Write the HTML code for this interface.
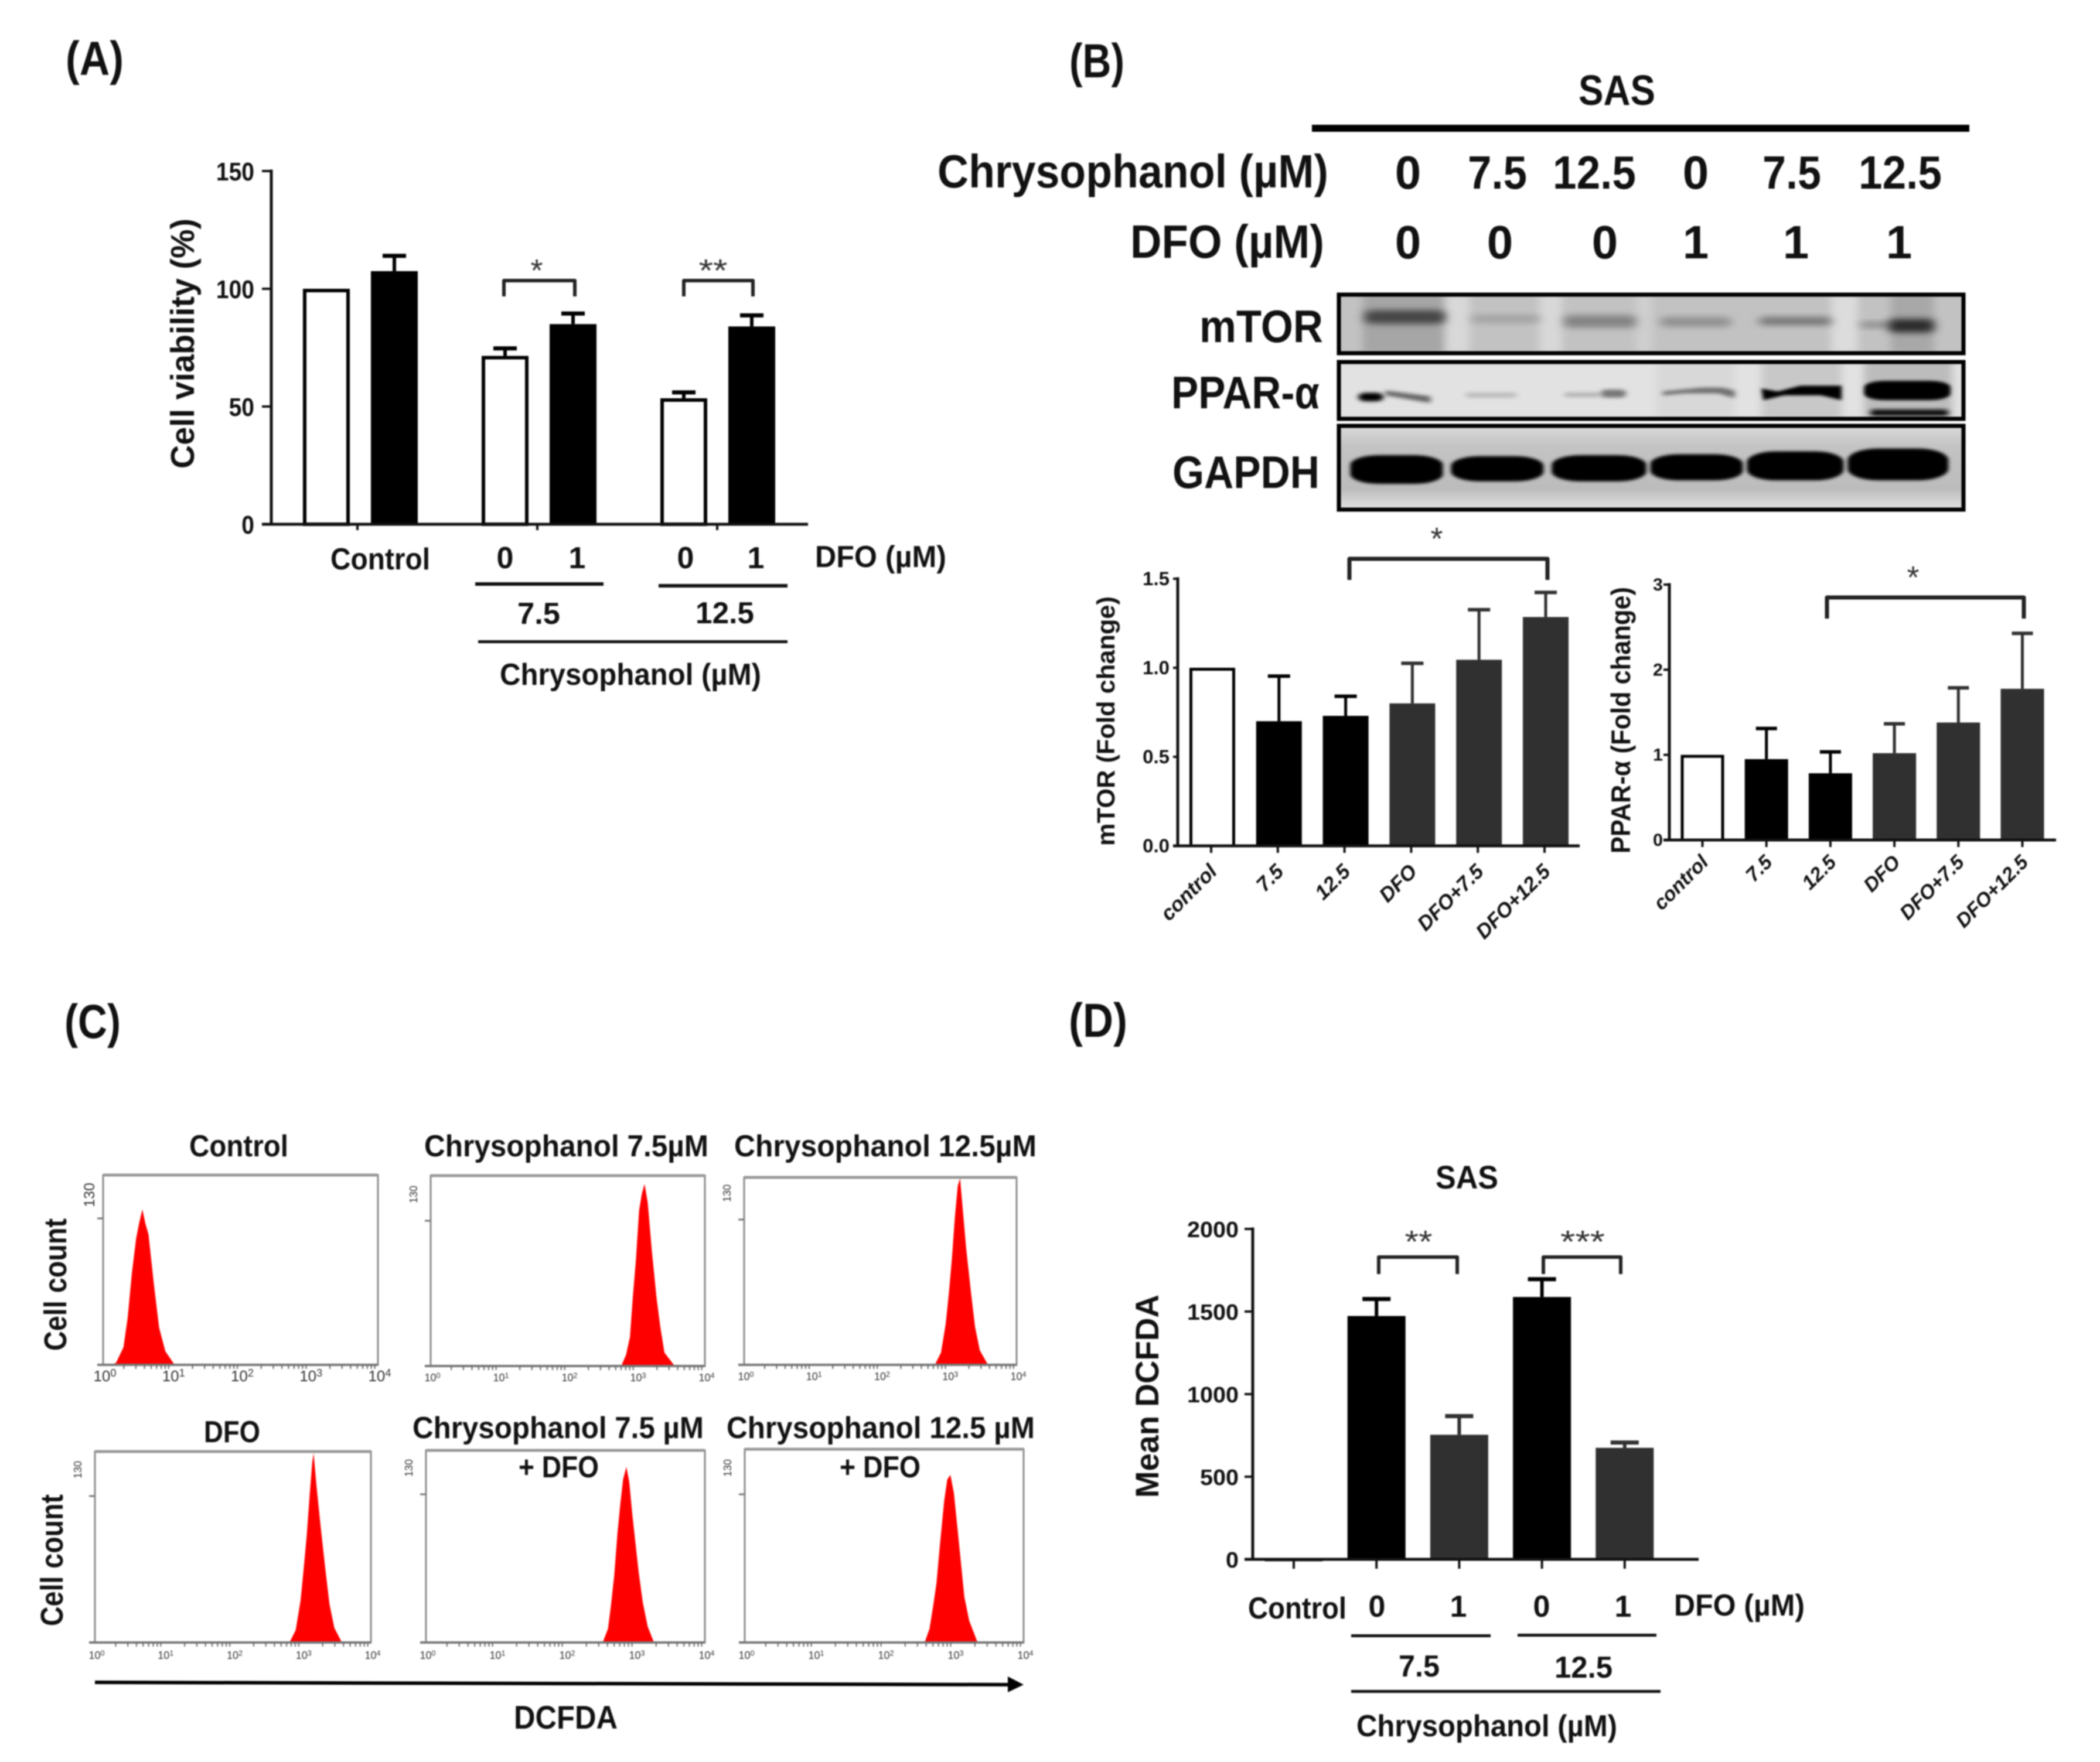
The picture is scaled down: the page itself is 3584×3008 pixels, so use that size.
<!DOCTYPE html>
<html lang="en">
<head>
<meta charset="utf-8">
<title>Chrysophanol and DFO figure</title>
<style>
html,body{margin:0;padding:0;background:#fff;width:3584px;height:3008px;overflow:hidden}
svg{display:block;filter:blur(1px)}
text{fill:#111}
.c{font-family:"Liberation Sans Narrow","Liberation Sans",sans-serif;font-weight:700}
.a{font-family:"Liberation Sans",sans-serif;font-weight:700}
.s{font-family:"Liberation Sans",sans-serif;font-weight:400;fill:#333}
.br{fill:none;stroke:#222;stroke-linejoin:round}
</style>
</head>
<body>
<svg id="figure" xmlns="http://www.w3.org/2000/svg" width="3584" height="3008" viewBox="0 0 3584 3008">
<defs>
<filter id="b0" x="-5%" y="-5%" width="110%" height="110%"><feGaussianBlur stdDeviation="10 14"/></filter>
<filter id="b1" x="-30%" y="-60%" width="160%" height="220%"><feGaussianBlur stdDeviation="12 16"/></filter>
<filter id="b2" x="-30%" y="-60%" width="160%" height="220%"><feGaussianBlur stdDeviation="7 9"/></filter>
<filter id="b3" x="-20%" y="-30%" width="140%" height="160%"><feGaussianBlur stdDeviation="5 7"/></filter>
<clipPath id="clip1"><rect x="5" y="20" width="1520" height="305"/></clipPath>
<clipPath id="clip2"><rect x="5" y="365" width="1520" height="300"/></clipPath>
<clipPath id="clip3"><rect x="5" y="693" width="1520" height="442"/></clipPath>
<linearGradient id="gapdhBg" x1="0" y1="0" x2="0" y2="1"><stop offset="0" stop-color="#dcdcdc"/><stop offset=".25" stop-color="#c4c4c4"/><stop offset=".75" stop-color="#bcbcbc"/><stop offset="1" stop-color="#e4e4e4"/></linearGradient>
</defs>
<rect x="0" y="0" width="3584" height="3008" fill="#fff"/>

<!-- Panel letters -->
<text class="c" x="112" y="128" font-size="82" textLength="99" lengthAdjust="spacingAndGlyphs">(A)</text>
<text class="c" x="1825" y="132" font-size="82" textLength="94" lengthAdjust="spacingAndGlyphs">(B)</text>
<text class="c" x="110" y="1772" font-size="82" textLength="96" lengthAdjust="spacingAndGlyphs">(C)</text>
<text class="c" x="1824" y="1770" font-size="82" textLength="100" lengthAdjust="spacingAndGlyphs">(D)</text>

<!-- Panel A static text -->
<text class="a" x="331" y="800" font-size="57" textLength="427" lengthAdjust="spacingAndGlyphs" transform="rotate(-90 331 800)">Cell viability (%)</text>
<text class="s" x="916" y="480" font-size="54" text-anchor="middle">*</text>
<text class="s" x="1217" y="480" font-size="54" text-anchor="middle" textLength="49" lengthAdjust="spacingAndGlyphs">**</text>
<path class="br" d="M860 506V479H981V506" stroke-width="6"/>
<path class="br" d="M1167 506V479H1285V506" stroke-width="6"/>
<text class="c" x="564" y="972" font-size="52" textLength="170" lengthAdjust="spacingAndGlyphs">Control</text>
<text class="c" x="862" y="970" font-size="52" text-anchor="middle">0</text>
<text class="c" x="985" y="970" font-size="52" text-anchor="middle">1</text>
<text class="c" x="1170" y="970" font-size="52" text-anchor="middle">0</text>
<text class="c" x="1290" y="970" font-size="52" text-anchor="middle">1</text>
<text class="c" x="1391" y="968" font-size="52" textLength="224" lengthAdjust="spacingAndGlyphs">DFO (µM)</text>
<rect x="811" y="994" width="219" height="6" fill="#111"/>
<rect x="1124" y="997" width="220" height="6" fill="#111"/>
<text class="c" x="883" y="1065" font-size="52" textLength="73" lengthAdjust="spacingAndGlyphs">7.5</text>
<text class="c" x="1187" y="1064" font-size="52" textLength="100" lengthAdjust="spacingAndGlyphs">12.5</text>
<rect x="816" y="1093" width="528" height="5" fill="#111"/>
<text class="c" x="853" y="1169" font-size="52" textLength="446" lengthAdjust="spacingAndGlyphs">Chrysophanol (µM)</text>

<!-- Panel B header -->
<text class="c" x="2694" y="179" font-size="72" textLength="131" lengthAdjust="spacingAndGlyphs">SAS</text>
<rect x="2239" y="213" width="1122" height="12" fill="#000"/>
<text class="c" x="1600" y="320" font-size="80" textLength="667" lengthAdjust="spacingAndGlyphs">Chrysophanol (µM)</text>
<text class="c" x="2403" y="322" font-size="80" text-anchor="middle">0</text>
<text class="c" x="2505" y="322" font-size="80" textLength="101" lengthAdjust="spacingAndGlyphs">7.5</text>
<text class="c" x="2650" y="322" font-size="80" textLength="142" lengthAdjust="spacingAndGlyphs">12.5</text>
<text class="c" x="2894" y="322" font-size="80" text-anchor="middle">0</text>
<text class="c" x="3008" y="322" font-size="80" textLength="100" lengthAdjust="spacingAndGlyphs">7.5</text>
<text class="c" x="3172" y="322" font-size="80" textLength="142" lengthAdjust="spacingAndGlyphs">12.5</text>
<text class="c" x="1929" y="440" font-size="80" textLength="331" lengthAdjust="spacingAndGlyphs">DFO (µM)</text>
<text class="c" x="2403" y="441" font-size="80" text-anchor="middle">0</text>
<text class="c" x="2560" y="441" font-size="80" text-anchor="middle">0</text>
<text class="c" x="2739" y="441" font-size="80" text-anchor="middle">0</text>
<text class="c" x="2894" y="441" font-size="80" text-anchor="middle">1</text>
<text class="c" x="3065" y="441" font-size="80" text-anchor="middle">1</text>
<text class="c" x="3241" y="441" font-size="80" text-anchor="middle">1</text>
<text class="c" x="2047" y="584" font-size="78" textLength="211" lengthAdjust="spacingAndGlyphs">mTOR</text>
<text class="c" x="1999" y="697" font-size="78" textLength="253" lengthAdjust="spacingAndGlyphs">PPAR-α</text>
<text class="c" x="2001" y="833" font-size="78" textLength="251" lengthAdjust="spacingAndGlyphs">GAPDH</text>

<!-- Western blots -->
<g transform="translate(2280 495) scale(.7015 .33)">
  <g clip-path="url(#clip1)">
    <rect x="0" y="0" width="1530" height="340" fill="#c2c2c2"/>
    <g filter="url(#b0)">
      <rect x="65" y="20" width="200" height="305" fill="#a6a6a6"/>
      <rect x="265" y="20" width="60" height="305" fill="#d8d8d8"/>
      <rect x="495" y="20" width="55" height="305" fill="#d8d8d8"/>
      <rect x="730" y="20" width="40" height="305" fill="#cfcfcf"/>
      <rect x="1205" y="20" width="65" height="305" fill="#dcdcdc"/>
      <rect x="1350" y="20" width="105" height="305" fill="#a8a8a8"/>
    </g>
    <rect x="70" y="105" width="195" height="70" rx="20" ry="20" fill="#444" filter="url(#b1)"/>
    <rect x="330" y="130" width="165" height="40" rx="14" fill="#a0a0a0" filter="url(#b1)"/>
    <rect x="555" y="130" width="175" height="65" rx="16" fill="#838383" filter="url(#b1)"/>
    <rect x="790" y="140" width="170" height="50" rx="14" fill="#8e8e8e" filter="url(#b1)"/>
    <rect x="1030" y="140" width="175" height="42" rx="14" fill="#727272" filter="url(#b1)"/>
    <rect x="1275" y="165" width="80" height="30" rx="12" fill="#888" filter="url(#b1)"/>
    <rect x="1345" y="150" width="110" height="70" rx="16" fill="#2a2a2a" filter="url(#b1)"/>
  </g>
  <g clip-path="url(#clip2)">
    <rect x="0" y="360" width="1530" height="310" fill="#e2e2e2"/>
    <g filter="url(#b0)">
      <rect x="780" y="365" width="190" height="300" fill="#d8d8d8"/>
      <rect x="1035" y="365" width="195" height="300" fill="#c8c8c8"/>
      <rect x="1285" y="365" width="215" height="300" fill="#bcbcbc"/>
    </g>
    <rect x="55" y="532" width="60" height="44" rx="18" fill="#000" filter="url(#b2)"/>
    <path d="M120 520L230 550V585L120 545Z" fill="#666" filter="url(#b2)"/>
    <rect x="315" y="530" width="125" height="28" rx="12" fill="#bdbdbd" filter="url(#b2)"/>
    <rect x="555" y="530" width="90" height="24" rx="10" fill="#b4b4b4" filter="url(#b2)"/>
    <rect x="645" y="515" width="60" height="42" rx="14" fill="#777" filter="url(#b2)"/>
    <path d="M795 525L890 505H940L970 520V560L930 535H850L795 545Z" fill="#6e6e6e" filter="url(#b2)"/>
    <path d="M1035 510L1075 525L1130 495H1230V570L1180 545H1090L1040 570Z" fill="#000" filter="url(#b3)"/>
    <rect x="1285" y="470" width="210" height="100" rx="50" ry="34" fill="#000" filter="url(#b3)"/>
    <rect x="1300" y="618" width="190" height="34" rx="12" fill="#111" filter="url(#b2)"/>
  </g>
  <g clip-path="url(#clip3)">
    <rect x="0" y="690" width="1530" height="450" fill="url(#gapdhBg)"/>
    <rect x="35" y="855" width="225" height="148" rx="70" ry="50" fill="#000" filter="url(#b3)"/>
    <rect x="280" y="860" width="225" height="130" rx="70" ry="50" fill="#000" filter="url(#b3)"/>
    <rect x="525" y="855" width="230" height="135" rx="70" ry="50" fill="#000" filter="url(#b3)"/>
    <rect x="765" y="850" width="225" height="135" rx="70" ry="50" fill="#000" filter="url(#b3)"/>
    <rect x="1000" y="835" width="235" height="150" rx="70" ry="55" fill="#000" filter="url(#b3)"/>
    <rect x="1245" y="820" width="245" height="165" rx="75" ry="60" fill="#000" filter="url(#b3)"/>
  </g>
</g>
<rect x="2285" y="503" width="1066" height="100" fill="none" stroke="#000" stroke-width="7"/>
<rect x="2285" y="618" width="1066" height="97" fill="none" stroke="#000" stroke-width="7"/>
<rect x="2285" y="727" width="1066" height="143" fill="none" stroke="#000" stroke-width="7"/>

<!-- Panel B charts static -->
<text class="a" x="1902" y="1444" font-size="43" textLength="426" lengthAdjust="spacingAndGlyphs" transform="rotate(-90 1902 1444)">mTOR (Fold change)</text>
<text class="a" x="2782" y="1457" font-size="46" textLength="455" lengthAdjust="spacingAndGlyphs" transform="rotate(-90 2782 1457)">PPAR-α (Fold change)</text>
<path class="br" d="M2303 990V954H2641V990" stroke-width="7"/>
<path class="br" d="M3118 1056V1020H3454V1056" stroke-width="7"/>
<text class="s" x="2452" y="938" font-size="54" text-anchor="middle">*</text>
<text class="s" x="3265" y="1004" font-size="54" text-anchor="middle">*</text>

<!-- Panel C static text -->
<text class="c" x="323" y="1974" font-size="52" textLength="169" lengthAdjust="spacingAndGlyphs">Control</text>
<text class="c" x="724" y="1974" font-size="52" textLength="485" lengthAdjust="spacingAndGlyphs">Chrysophanol  7.5µM</text>
<text class="c" x="1253" y="1974" font-size="52" textLength="516" lengthAdjust="spacingAndGlyphs">Chrysophanol  12.5µM</text>
<text class="c" x="348" y="2462" font-size="52" textLength="96" lengthAdjust="spacingAndGlyphs">DFO</text>
<text class="c" x="704" y="2455" font-size="52" textLength="497" lengthAdjust="spacingAndGlyphs">Chrysophanol  7.5 µM</text>
<text class="c" x="1240" y="2455" font-size="52" textLength="526" lengthAdjust="spacingAndGlyphs">Chrysophanol  12.5 µM</text>
<text class="a" x="113" y="2306" font-size="54" textLength="226" lengthAdjust="spacingAndGlyphs" transform="rotate(-90 113 2306)">Cell count</text>
<text class="a" x="107" y="2776" font-size="54" textLength="225" lengthAdjust="spacingAndGlyphs" transform="rotate(-90 107 2776)">Cell count</text>
<path d="M162 2872L1725 2876" stroke="#000" stroke-width="6" fill="none"/>
<polygon points="1720,2862 1747,2876 1720,2889" fill="#000"/>
<text class="c" x="877" y="2951" font-size="56" textLength="177" lengthAdjust="spacingAndGlyphs">DCFDA</text>

<!-- Panel D static text -->
<text class="a" x="2450" y="2029" font-size="56" textLength="107" lengthAdjust="spacingAndGlyphs">SAS</text>
<text class="a" x="1977" y="2557" font-size="56" textLength="347" lengthAdjust="spacingAndGlyphs" transform="rotate(-90 1977 2557)">Mean DCFDA</text>
<path class="br" d="M2353 2175V2146H2487V2175" stroke-width="6"/>
<path class="br" d="M2634 2175V2146H2766V2175" stroke-width="6"/>
<text class="s" x="2421" y="2138" font-size="54" text-anchor="middle" textLength="47" lengthAdjust="spacingAndGlyphs">**</text>
<text class="s" x="2701" y="2138" font-size="54" text-anchor="middle" textLength="76" lengthAdjust="spacingAndGlyphs">***</text>
<text class="c" x="2130" y="2763" font-size="52" textLength="168" lengthAdjust="spacingAndGlyphs">Control</text>
<text class="c" x="2350" y="2760" font-size="52" text-anchor="middle">0</text>
<text class="c" x="2489" y="2760" font-size="52" text-anchor="middle">1</text>
<text class="c" x="2631" y="2760" font-size="52" text-anchor="middle">0</text>
<text class="c" x="2770" y="2760" font-size="52" text-anchor="middle">1</text>
<text class="c" x="2857" y="2758" font-size="52" textLength="223" lengthAdjust="spacingAndGlyphs">DFO (µM)</text>
<rect x="2306" y="2790" width="238" height="5" fill="#111"/>
<rect x="2590" y="2789" width="237" height="5" fill="#111"/>
<text class="c" x="2387" y="2862" font-size="52" textLength="70" lengthAdjust="spacingAndGlyphs">7.5</text>
<text class="c" x="2653" y="2864" font-size="52" textLength="99" lengthAdjust="spacingAndGlyphs">12.5</text>
<rect x="2306" y="2885" width="528" height="5" fill="#111"/>
<text class="c" x="2315" y="2964" font-size="52" textLength="445" lengthAdjust="spacingAndGlyphs">Chrysophanol (µM)</text>

<g id="charts"></g>
</svg>

<script>
// ---- Panel A: cell viability ----
const panelACategories = ['control-dfo0', 'control-dfo1', '7.5-dfo0', '7.5-dfo1', '12.5-dfo0', '12.5-dfo1'];
const panelAValues = [100, 107.5, 71.5, 85, 53.5, 84];
const panelAErrorTops = [null, 114, 74.7, 89.5, 56, 88.7];
const panelAGroups = ['open', 'solid', 'open', 'solid', 'open', 'solid'];
const panelATicks = [0, 50, 100, 150];
const panelATickLabels = ['0', '50', '100', '150'];

// ---- Panel B: mTOR densitometry ----
const mtorCategories = ['control', '7.5', '12.5', 'DFO', 'DFO+7.5', 'DFO+12.5'];
const mtorValues = [1.0, 0.70, 0.73, 0.80, 1.045, 1.285];
const mtorErrorTops = [null, 0.953, 0.84, 1.025, 1.326, 1.423];
const mtorGroups = ['open', 'solid', 'solid', 'dark', 'dark', 'dark'];
const mtorTicks = [0, 0.5, 1, 1.5];
const mtorTickLabels = ['0.0', '0.5', '1.0', '1.5'];

// ---- Panel B: PPAR-alpha densitometry ----
const pparCategories = ['control', '7.5', '12.5', 'DFO', 'DFO+7.5', 'DFO+12.5'];
const pparValues = [1.0, 0.95, 0.784, 1.02, 1.38, 1.776];
const pparErrorTops = [null, 1.31, 1.035, 1.365, 1.787, 2.427];
const pparGroups = ['open', 'solid', 'solid', 'dark', 'dark', 'dark'];
const pparTicks = [0, 1, 2, 3];
const pparTickLabels = ['0', '1', '2', '3'];

// ---- Panel D: mean DCFDA ----
const panelDCategories = ['control', '7.5-dfo0', '7.5-dfo1', '12.5-dfo0', '12.5-dfo1'];
const panelDValues = [8, 1473, 754, 1588, 675];
const panelDErrorTops = [null, 1576, 867, 1696, 707];
const panelDGroups = ['open', 'solid', 'dark', 'solid', 'dark'];
const panelDTicks = [0, 500, 1000, 1500, 2000];
const panelDTickLabels = ['0', '500', '1000', '1500', '2000'];

// ---- Panel C: flow cytometry histograms (log10 intensity, cell count) ----
const flowControlLog = [0.128, 0.19, 0.296, 0.357, 0.418, 0.48, 0.525, 0.571, 0.617, 0.66, 0.74, 0.815, 0.906, 1.04];
const flowControlCount = [0, 2, 15.6, 41.6, 81, 112, 126, 138, 125, 116, 71, 33, 12, 0];
const flowChrys75Log = [2.78, 2.85, 2.907, 2.948, 2.994, 3.04, 3.08, 3.12, 3.167, 3.225, 3.295, 3.35, 3.41, 3.56];
const flowChrys75Count = [0, 10, 26, 61, 95, 139, 154, 163, 146, 104, 61, 35, 12, 0];
const flowChrys125Log = [2.80, 2.89, 2.96, 3.007, 3.05, 3.095, 3.136, 3.17, 3.21, 3.26, 3.33, 3.39, 3.46, 3.58];
const flowChrys125Count = [0, 11, 37, 65, 95, 133, 160, 167, 139, 104, 65, 34, 13, 0];
const flowDfoLog = [2.82, 2.91, 2.98, 3.025, 3.07, 3.115, 3.15, 3.17, 3.21, 3.27, 3.34, 3.40, 3.47, 3.58];
const flowDfoCount = [0, 11, 37, 65, 95, 133, 160, 168, 140, 104, 65, 34, 13, 0];
const flowChrys75DfoLog = [2.534, 2.61, 2.65, 2.70, 2.745, 2.786, 2.827, 2.874, 2.915, 2.96, 3.05, 3.11, 3.18, 3.27];
const flowChrys75DfoCount = [0, 12, 31, 59, 95, 121, 143, 154, 141, 112, 62, 35, 14, 0];
const flowChrys125DfoLog = [2.58, 2.65, 2.71, 2.75, 2.80, 2.86, 2.905, 2.95, 3.00, 3.06, 3.15, 3.22, 3.34];
const flowChrys125DfoCount = [0, 12, 35, 52, 86, 124, 143, 147, 131, 95, 40, 19, 0];
const flowDecades = [0, 1, 2, 3, 4];
const flowMinorMultiples = [2, 3, 4, 5, 6, 7, 8, 9];

const NS = 'http://www.w3.org/2000/svg';
const root = document.getElementById('charts');

function make(tag, attrs, parent) {
  const node = document.createElementNS(NS, tag);
  for (const k in attrs) node.setAttribute(k, attrs[k]);
  (parent || root).appendChild(node);
  return node;
}

const groupFill = { open: '#ffffff', solid: '#000000', dark: '#303030' };

function drawBarChart(opt) {
  const g = make('g', {}, root);
  
  

  opt.values.forEach(function (v, i) {
    const cx = opt.xAt(i);
    const kind = opt.groups[i];
    const top = opt.yAt(v);
    const errTop = opt.errors[i];
    const stroke = kind === 'dark' ? '#303030' : '#000000';
    if (errTop !== null) {
      const eLine = make('line', { x1: cx, x2: cx, y1: top, y2: opt.yAt(errTop), stroke: stroke, 'stroke-width': opt.errWidth }, g);
      
      
      const eCap = make('line', { x1: cx - opt.capHalf, x2: cx + opt.capHalf, y1: opt.yAt(errTop), y2: opt.yAt(errTop), stroke: stroke, 'stroke-width': opt.errWidth + 1 }, g);
      
      
    }
    const inset = kind === 'open' ? opt.strokeWidth / 2 : 0;
    const bar = make('rect', {
      x: cx - opt.barWidth / 2 + inset,
      y: top + inset,
      width: opt.barWidth - 2 * inset,
      height: Math.max(opt.yAt(0) - top - inset, 0.5),
      fill: groupFill[kind]
    }, g);
    if (kind === 'open') {
      bar.setAttribute('stroke', '#000');
      bar.setAttribute('stroke-width', opt.strokeWidth);
    }
    
    
  });

  const yAxis = make('line', { x1: opt.axisX, x2: opt.axisX, y1: opt.yAt(opt.ticks[opt.ticks.length - 1]) - opt.axisWidth / 2, y2: opt.yAt(0), stroke: '#111', 'stroke-width': opt.axisWidth }, g);
  
  
  const xAxis = make('line', { x1: opt.axisLeft, x2: opt.axisRight, y1: opt.yAt(0), y2: opt.yAt(0), stroke: '#111', 'stroke-width': opt.axisWidth }, g);
  
  

  opt.ticks.forEach(function (t, i) {
    const y = opt.yAt(t);
    const tick = make('line', { x1: opt.axisLeft, x2: opt.axisX, y1: y, y2: y, stroke: '#111', 'stroke-width': opt.axisWidth - 1 }, g);
    
    
    const label = opt.tickLabels[i];
    const txt = make('text', {
      class: 'a', x: opt.labelRight, y: y + opt.labelDrop, 'font-size': opt.labelSize,
      'text-anchor': 'end', textLength: label.length * opt.charWidth, lengthAdjust: 'spacingAndGlyphs'
    }, g);
    txt.textContent = label;
    
    
  });

  opt.xTicks.forEach(function (x) {
    const tick = make('line', { x1: x, x2: x, y1: opt.yAt(0), y2: opt.yAt(0) + opt.xTickLen, stroke: '#111', 'stroke-width': opt.axisWidth - 1 }, g);
    
    
  });

  if (opt.rotated) {
    opt.categories.forEach(function (c, i) {
      const ax = opt.xTicks[i] + opt.rotated.dx;
      const ay = opt.yAt(0) + opt.rotated.dy;
      const txt = make('text', {
        class: 'a', x: ax, y: ay, 'font-size': opt.rotated.size, 'font-style': 'italic',
        'text-anchor': 'end', transform: 'rotate(-45 ' + ax + ' ' + ay + ')'
      }, g);
      txt.textContent = c;
      
      
    });
  }
}

function axisA(v) { return 895 - v * (895 - 292) / 150; }
function slotA(i) { return 557 + Math.floor(i / 2) * 305 + (i % 2) * 116; }
drawBarChart({
  name: 'viability', categories: panelACategories, values: panelAValues, errors: panelAErrorTops, groups: panelAGroups,
  ticks: panelATicks, tickLabels: panelATickLabels, yAt: axisA, xAt: slotA, barWidth: 80, strokeWidth: 6, errWidth: 6, capHalf: 20,
  axisX: 463, axisLeft: 447, axisRight: 1379, axisWidth: 5, labelRight: 434, labelDrop: 16, labelSize: 44, charWidth: 21.7,
  xTicks: [610, 917, 1224], xTickLen: 10
});

function axisM(v) { return 1444 - v * (1444 - 988) / 1.5; }
function slotM(i) { return 2069 + i * 113.8; }
drawBarChart({
  name: 'mtor', categories: mtorCategories, values: mtorValues, errors: mtorErrorTops, groups: mtorGroups,
  ticks: mtorTicks, tickLabels: mtorTickLabels, yAt: axisM, xAt: slotM, barWidth: 78, strokeWidth: 5, errWidth: 5, capHalf: 19,
  axisX: 2010, axisLeft: 2002, axisRight: 2696, axisWidth: 5, labelRight: 1996, labelDrop: 11, labelSize: 32, charWidth: 15.3,
  xTicks: mtorCategories.map(function (c, i) { return slotM(i) - 2; }), xTickLen: 12,
  rotated: { dx: 12, dy: 46, size: 35 }
});

function axisP(v) { return 1434 - v * (1434 - 998) / 3; }
function slotP(i) { return 2905.5 + i * 109.2; }
drawBarChart({
  name: 'ppar', categories: pparCategories, values: pparValues, errors: pparErrorTops, groups: pparGroups,
  ticks: pparTicks, tickLabels: pparTickLabels, yAt: axisP, xAt: slotP, barWidth: 74, strokeWidth: 5, errWidth: 5, capHalf: 18,
  axisX: 2849, axisLeft: 2839, axisRight: 3509, axisWidth: 5, labelRight: 2838, labelDrop: 10, labelSize: 30, charWidth: 17,
  xTicks: pparCategories.map(function (c, i) { return slotP(i); }), xTickLen: 12,
  rotated: { dx: 12, dy: 40, size: 34 }
});

function axisD(v) { return 2662 - v * (2662 - 2098) / 2000; }
function slotD(i) { return 2208 + i * 141.2; }
drawBarChart({
  name: 'dcfda', categories: panelDCategories, values: panelDValues, errors: panelDErrorTops, groups: panelDGroups,
  ticks: panelDTicks, tickLabels: panelDTickLabels, yAt: axisD, xAt: slotD, barWidth: 99, strokeWidth: 5, errWidth: 6, capHalf: 24,
  axisX: 2138, axisLeft: 2124, axisRight: 2899, axisWidth: 5, labelRight: 2114, labelDrop: 14, labelSize: 38, charWidth: 22,
  xTicks: panelDCategories.map(function (c, i) { return slotD(i); }), xTickLen: 16
});

function drawFlow(name, logs, counts, box) {
  const g = make('g', {}, root);
  
  
  function xLog(v) { return box.l + v * (box.r - box.l) / 4; }
  function yCount(c) { return box.b - c * (box.b - box.tickY) / 130; }

  const frame = make('rect', { x: box.l, y: box.t, width: box.r - box.l, height: box.b - box.t, fill: '#fff', stroke: '#8a8a8a', 'stroke-width': 3 }, g);
  
  
  const topEdge = make('line', { x1: box.l, x2: box.r, y1: box.t, y2: box.t, stroke: '#999', 'stroke-width': 5 }, g);
  
  

  let d = 'M' + xLog(logs[0]) + ' ' + yCount(0);
  logs.forEach(function (v, i) { d += 'L' + xLog(v) + ' ' + yCount(counts[i]); });
  d += 'L' + xLog(logs[logs.length - 1]) + ' ' + yCount(0) + 'Z';
  const hist = make('path', { d: d, fill: '#ff0000' }, g);
  
  

  const base = make('line', { x1: box.l - 10, x2: box.r, y1: box.b, y2: box.b, stroke: '#777', 'stroke-width': 4 }, g);
  
  

  flowDecades.forEach(function (dec) {
    if (dec < 4) {
      flowMinorMultiples.forEach(function (m) {
        const mx = xLog(dec + Math.log10(m));
        const minor = make('line', { x1: mx, x2: mx, y1: box.b, y2: box.b + 7, stroke: '#666', 'stroke-width': 2 }, g);
        
        
      });
    }
    const size = box.big ? 26 : 18;
    const label = make('text', { x: xLog(dec) + 3, y: box.labelY, 'font-size': size, 'font-family': '"Liberation Sans", sans-serif', 'text-anchor': 'middle', style: 'fill:#333' }, g);
    label.textContent = '10';
    const sup = make('tspan', { dy: -size * 0.3, 'font-size': size * 0.7 }, label);
    sup.textContent = String(dec);
    
    
  });

  const yTick = make('line', { x1: box.l - 10, x2: box.l, y1: box.tickY, y2: box.tickY, stroke: '#777', 'stroke-width': 3 }, g);
  
  

  const yLabelX = box.l - (box.big ? 15 : 23);
  const yLabelY = box.tickY - (box.big ? 40 : 45);
  const yl = make('text', { x: yLabelX, y: yLabelY, 'font-size': box.big ? 25 : 18, 'font-family': '"Liberation Sans", sans-serif', 'text-anchor': 'middle', transform: 'rotate(-90 ' + yLabelX + ' ' + yLabelY + ')', style: 'fill:#333' }, g);
  yl.textContent = '130';
  
  
}

drawFlow('control', flowControlLog, flowControlCount, { l: 176, r: 645, t: 2006, b: 2330, tickY: 2080, labelY: 2358, big: true });
drawFlow('chrys-7-5', flowChrys75Log, flowChrys75Count, { l: 735, r: 1203, t: 2007, b: 2332, tickY: 2084, labelY: 2358 });
drawFlow('chrys-12-5', flowChrys125Log, flowChrys125Count, { l: 1270, r: 1735, t: 2010, b: 2330, tickY: 2082, labelY: 2356 });
drawFlow('dfo', flowDfoLog, flowDfoCount, { l: 162, r: 633, t: 2478, b: 2804, tickY: 2554, labelY: 2832 });
drawFlow('chrys-7-5-dfo', flowChrys75DfoLog, flowChrys75DfoCount, { l: 727, r: 1203, t: 2476, b: 2804, tickY: 2551, labelY: 2832 });
drawFlow('chrys-12-5-dfo', flowChrys125DfoLog, flowChrys125DfoCount, { l: 1271, r: 1747, t: 2474, b: 2804, tickY: 2551, labelY: 2832 });

// The "+ DFO" captions sit on top of the plot frames, so they are appended last.
const plusDfoLow = make('text', { class: 'c', x: 885, y: 2522, 'font-size': 52, textLength: 137, lengthAdjust: 'spacingAndGlyphs' }, root);
plusDfoLow.textContent = '+ DFO';


const plusDfoHigh = make('text', { class: 'c', x: 1433, y: 2522, 'font-size': 52, textLength: 138, lengthAdjust: 'spacingAndGlyphs' }, root);
plusDfoHigh.textContent = '+ DFO';


</script>
</body>
</html>
